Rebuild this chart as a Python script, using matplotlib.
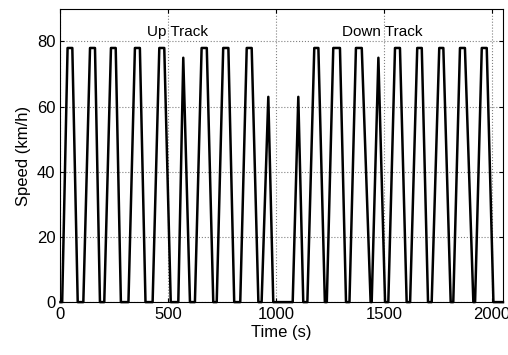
"""Speed profile of a train running the up track and then the down track."""

import matplotlib
matplotlib.use("Agg")
import matplotlib.pyplot as plt

plt.rcParams["font.family"] = ["Liberation Sans", "DejaVu Sans"]

# Each run between stations: depart (speed 0), reach top speed, leave top
# speed, stop (speed 0). Times in seconds, speeds in km/h.
up_depart = [8, 106, 203, 315, 427, 546, 623, 724, 833, 932]
up_reach = [33, 137, 234, 345, 458, 569, 654, 754, 863, 963]
up_leave = [55, 160, 256, 368, 481, 569, 678, 778, 886, 963]
up_stop = [80, 183, 280, 394, 511, 600, 708, 805, 917, 986]
up_peak = [78, 78, 78, 78, 78, 75, 78, 78, 78, 63]

down_depart = [1076, 1144, 1234, 1339, 1442, 1519, 1620, 1720, 1820, 1921]
down_reach = [1102, 1176, 1264, 1369, 1473, 1550, 1653, 1755, 1851, 1952]
down_leave = [1102, 1195, 1295, 1396, 1473, 1573, 1674, 1774, 1874, 1975]
down_stop = [1125, 1225, 1323, 1437, 1504, 1604, 1703, 1808, 1913, 2006]
down_peak = [63, 78, 78, 78, 75, 78, 78, 78, 78, 78]

track_labels = ["Up Track", "Down Track"]
label_times = [542, 1492]


def profile(depart, reach, leave, stop, peak):
    times, speeds = [0], [0]
    for t0, t1, t2, t3, v in zip(depart, reach, leave, stop, peak):
        times += [t0, t1, t2, t3]
        speeds += [0, v, v, 0]
    return times, speeds


up_t, up_v = profile(up_depart, up_reach, up_leave, up_stop, up_peak)
down_t, down_v = profile(down_depart, down_reach, down_leave, down_stop,
                         down_peak)
times = up_t + down_t[1:] + [2050]
speeds = up_v + down_v[1:] + [0]

fig = plt.figure(figsize=(5.08, 3.55), dpi=100)
ax = fig.add_axes([0.119, 0.149, 0.871, 0.826])
ax.plot(times, speeds, color="black", linewidth=1.8, clip_on=False,
        zorder=3)

for label, t in zip(track_labels, label_times):
    ax.text(t, 83, label, ha="center", va="center", fontsize=11)

ax.set_xlim(0, 2050)
ax.set_ylim(0, 90)
ax.set_xticks([0, 500, 1000, 1500, 2000])
ax.set_yticks([0, 20, 40, 60, 80])
ax.tick_params(direction="in", top=True, right=True, labelsize=12,
               length=3)
ax.grid(True, linestyle=":", color="gray", linewidth=0.8)
ax.set_axisbelow(True)
ax.set_xlabel("Time (s)", fontsize=12, labelpad=2)
ax.set_ylabel("Speed (km/h)", fontsize=12, labelpad=4)

fig.savefig("out.png", dpi=100)
